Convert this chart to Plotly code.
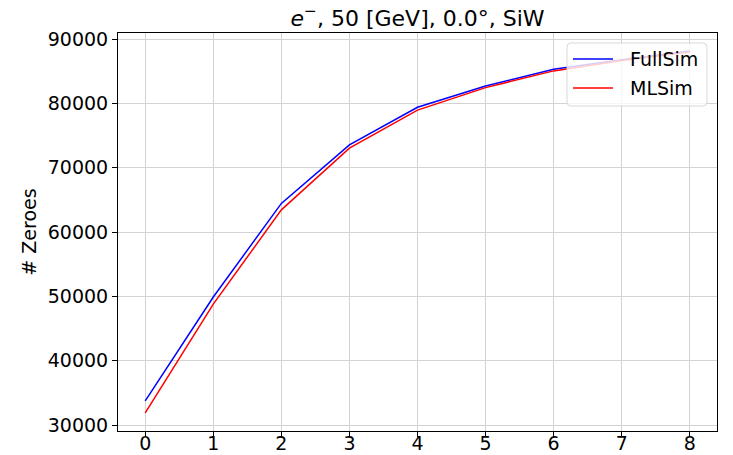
import plotly.graph_objects as go

# Layer index and number of zero-valued cells per layer
layers = [0, 1, 2, 3, 4, 5, 6, 7, 8]
fullsim_zeroes = [33750, 49900, 64450, 73550, 79400, 82700, 85300, 86800, 88150]
mlsim_zeroes = [31900, 48800, 63450, 73030, 78950, 82450, 85050, 86650, 88000]

series_names = ["FullSim", "MLSim"]
series_colors = ["#0000ff", "#ff0000"]

x_ticks = [0, 1, 2, 3, 4, 5, 6, 7, 8]
y_ticks = [30000, 40000, 50000, 60000, 70000, 80000, 90000]

font_family = "DejaVu Sans"

# Plot-area geometry in pixels
W, H = 733, 455
L, R, T, B = 118, 717, 33, 431
PW, PH = R - L, B - T


def px_x(p):
    return (p - L) / PW


def px_y(p):
    return (B - p) / PH


fig = go.Figure()
for name, values, color in zip(series_names, [fullsim_zeroes, mlsim_zeroes], series_colors):
    fig.add_trace(go.Scatter(x=layers, y=values, mode="lines", name=name,
                             line=dict(color=color, width=1.5), showlegend=False))

axis_common = dict(
    showline=True, linecolor="black", linewidth=1, mirror=True,
    ticks="outside", ticklen=5, tickwidth=1, tickcolor="black",
    showgrid=True, gridcolor="#d3d3d3", gridwidth=1,
    zeroline=False, automargin=False,
    tickfont=dict(family=font_family, size=19, color="black"),
)

# Legend box: semi-transparent with rounded corners, drawn above the lines
bx0, bx1, by0, by1, rad = 567, 707, 43, 106, 4
legend_path = (
    f"M {px_x(bx0 + rad)},{px_y(by0)} L {px_x(bx1 - rad)},{px_y(by0)} "
    f"Q {px_x(bx1)},{px_y(by0)} {px_x(bx1)},{px_y(by0 + rad)} "
    f"L {px_x(bx1)},{px_y(by1 - rad)} "
    f"Q {px_x(bx1)},{px_y(by1)} {px_x(bx1 - rad)},{px_y(by1)} "
    f"L {px_x(bx0 + rad)},{px_y(by1)} "
    f"Q {px_x(bx0)},{px_y(by1)} {px_x(bx0)},{px_y(by1 - rad)} "
    f"L {px_x(bx0)},{px_y(by0 + rad)} "
    f"Q {px_x(bx0)},{px_y(by0)} {px_x(bx0 + rad)},{px_y(by0)} Z"
)
shapes = [dict(type="path", xref="paper", yref="paper", path=legend_path,
               fillcolor="rgba(255,255,255,0.8)", line=dict(color="#d8d8d8", width=1),
               layer="above")]
annotations = []
row_y = [59, 88]
for name, color, ry in zip(series_names, series_colors, row_y):
    shapes.append(dict(type="line", xref="paper", yref="paper",
                       x0=px_x(573), x1=px_x(613), y0=px_y(ry), y1=px_y(ry),
                       line=dict(color=color, width=1.5), layer="above"))
    annotations.append(dict(text=name, xref="paper", yref="paper",
                            x=px_x(628), y=px_y(ry), xanchor="left", yanchor="middle",
                            showarrow=False,
                            font=dict(family=font_family, size=19, color="black")))

fig.update_layout(
    width=W, height=H,
    margin=dict(l=L, r=W - R, t=T, b=H - B),
    paper_bgcolor="white", plot_bgcolor="white",
    font=dict(family=font_family, color="black"),
    showlegend=False,
    title=dict(text="<i>e</i><sup>−</sup>, 50 [GeV], 0.0°, SiW",
               x=(L + R) / 2 / W, xanchor="center",
               y=1 - 18 / H, yanchor="middle",
               font=dict(family=font_family, size=22, color="black")),
    xaxis=dict(range=[-0.4, 8.4], tickvals=x_ticks,
               ticktext=[str(v) for v in x_ticks], ticklabelstandoff=-10,
               **axis_common),
    yaxis=dict(range=[29070, 90940], tickvals=y_ticks,
               ticktext=[str(v) for v in y_ticks],
               title=dict(text="# Zeroes", font=dict(family=font_family, size=19), standoff=6),
               **axis_common),
    shapes=shapes,
    annotations=annotations,
)

fig.write_html("out.html")
